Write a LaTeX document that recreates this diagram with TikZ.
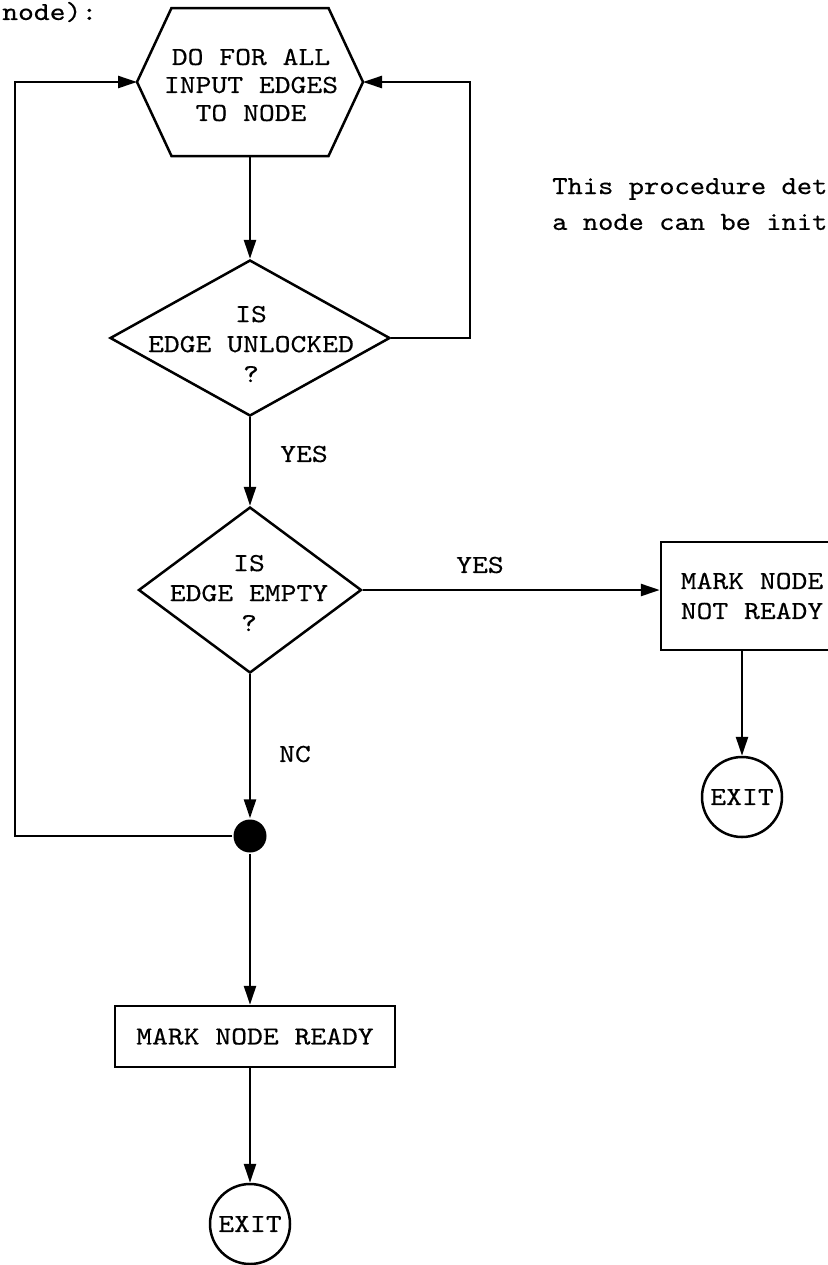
\documentclass[tikz,border=0pt]{standalone}
\usepackage{fontspec}
\newfontfamily\tyfam[Extension=.otf, FakeStretch=1.16, FakeBold=0.4]{lmmono10-regular}
\newfontfamily\tyfamn[Extension=.otf, FakeStretch=1.12, FakeBold=0.4]{lmmono10-regular}
\newcommand\tyfont{\tyfam\fontsize{13}{15}\selectfont}
\usetikzlibrary{shapes.geometric,arrows.meta,calc}
\begin{document}
\begin{tikzpicture}[x=0.5pt,y=-0.5pt,line width=1.25pt,
  every node/.style={font=\tyfont, inner sep=0pt},
  arr/.style={-{Triangle[length=9.5pt,width=6pt]}},
  dia/.style={diamond, draw, inner sep=0pt},
  txt/.style={align=center},
  box/.style={draw, rectangle},
  term/.style={circle, draw, minimum size=40pt},
  junction/.style={circle, fill, minimum size=16.5pt}]
\useasboundingbox (0,0) rectangle (828,1265);
% header fragment
\node[anchor=west] (hdr) at (1,12) {node):};
% hexagon
\coordinate (hexc) at (250,82);
\coordinate (hexW) at ($(hexc)+(-113,0)$);
\coordinate (hexE) at ($(hexc)+(113,0)$);
\coordinate (hexS) at ($(hexc)+(0,74)$);
\draw (hexW) -- ++(34.5,-74) -- ++(157,0) -- (hexE) -- ++(-34.5,74) -- ++(-157,0) -- cycle;
\node[txt, font=\tyfam\fontsize{13}{14}\selectfont] (hex) at (251,85) {DO FOR ALL\\INPUT EDGES\\TO NODE};
% decisions
\node[dia, minimum width=140pt, minimum height=78pt] (d1) at (250,338) {};
\node[txt] (d1t) at (251,344) {IS\\EDGE UNLOCKED\\?};
\node[dia, minimum width=111.5pt, minimum height=83pt] (d2) at (250,590) {};
\node[txt] (d2t) at (249,593) {IS\\EDGE EMPTY\\?};
% right branch
\node[box, txt, minimum width=91pt, minimum height=54pt] (rbox) at (752,596) {MARK NODE\\NOT READY};
\node[term] (ex1) at (742,797) {EXIT};
% junction and bottom
\node[junction] (dot) at (250,836) {};
\node[box, minimum width=140pt, minimum height=30.5pt] (bbox) at (255,1036.5) {MARK NODE READY};
\node[term] (ex2) at (250,1224) {EXIT};
% labels
\node (lyes1) at (304,454) {YES};
\node (lyes2) at (480,565) {YES};
\node (lno) at (295,754) {NC};
\node[anchor=west, font=\tyfamn\fontsize{13}{15}\selectfont] (note1) at (551,189) {This procedure det};
\node[anchor=west, font=\tyfamn\fontsize{13}{15}\selectfont] (note2) at (551,222) {a node can be init};
% helper coordinates for loops
\coordinate (rr) at (470,0);
\coordinate (ll) at (15,0);
% connectors
\draw[arr] (hexS) -- (d1.north);
\draw[arr] (d1.south) -- (d2.north);
\draw[arr] (d1.east) -- (d1.east -| rr) -- (rr |- hexE) -- (hexE);
\draw[arr] (d2.east) -- (d2.east -| rbox.west);
\draw[arr] (rbox.south -| ex1.north) -- (ex1.north);
\draw[arr] (d2.south) -- (dot.north);
\draw[arr] (dot.west) -- (dot.west -| ll) -- (ll |- hexW) -- (hexW);
\draw[arr] (dot.south) -- (dot.south |- bbox.north);
\draw[arr] (ex2.north |- bbox.south) -- (ex2.north);
\end{tikzpicture}
\end{document}
